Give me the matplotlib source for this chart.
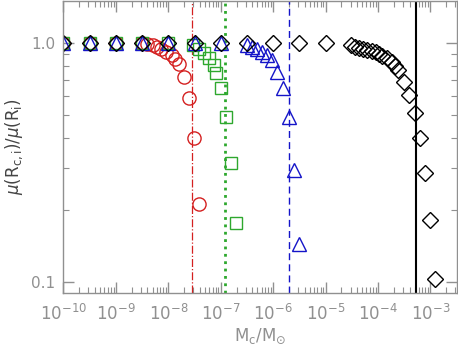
import matplotlib
matplotlib.use("Agg")
import matplotlib.pyplot as plt
from matplotlib.ticker import LogLocator, FixedLocator, NullFormatter

# red circles
red_x = [1e-10, 3.16e-10, 1e-9, 3.15e-9, 4.0e-9, 5.0e-9, 6.2e-9, 7.4e-9, 9.2e-9,
         1.15e-8, 1.36e-8, 1.63e-8, 2.02e-8, 2.5e-8, 3.13e-8, 3.9e-8]
red_y = [1.0, 1.0, 1.0, 1.0, 0.995, 0.981, 0.967, 0.948, 0.922,
         0.891, 0.857, 0.817, 0.721, 0.589, 0.401, 0.212]

# green squares
green_x = [1e-10, 3.16e-10, 1e-9, 3.16e-9, 1e-8, 2.99e-8, 3.81e-8, 4.74e-8, 6.03e-8,
           7.5e-8, 8.0e-8, 1.0e-7, 1.25e-7, 1.6e-7, 1.99e-7]
green_y = [1.0, 1.0, 1.0, 1.0, 1.0, 0.981, 0.948, 0.908, 0.863,
           0.809, 0.753, 0.646, 0.492, 0.316, 0.176]

# blue triangles
blue_x = [1e-10, 3.16e-10, 1e-9, 3.16e-9, 1e-8, 3.16e-8, 1e-7, 3.17e-7, 3.95e-7,
          4.91e-7, 6.1e-7, 7.6e-7, 9.45e-7, 1.18e-6, 1.53e-6, 1.99e-6, 2.55e-6, 3.08e-6]
blue_y = [1.0, 1.0, 1.0, 1.0, 1.0, 1.0, 1.0, 0.981, 0.965,
          0.944, 0.920, 0.891, 0.849, 0.758, 0.651, 0.492, 0.294, 0.145]

# black diamonds
black_x = [1e-10, 3.16e-10, 1e-9, 3.16e-9, 1e-8, 3.16e-8, 1e-7, 3.16e-7, 1e-6, 3.16e-6, 1e-5,
           3.08e-5, 3.66e-5, 4.35e-5, 5.26e-5, 6.27e-5, 7.57e-5, 8.99e-5, 1.045e-4, 1.21e-4,
           1.46e-4, 1.81e-4, 2.08e-4, 2.43e-4, 3.11e-4, 3.93e-4, 5.04e-4, 6.27e-4, 7.8e-4,
           9.95e-4, 1.24e-3]
black_y = [1.0] * 11 + [0.981, 0.965, 0.956, 0.944, 0.935, 0.926, 0.914, 0.897, 0.885,
                        0.863, 0.830, 0.805, 0.771, 0.689, 0.606, 0.508, 0.399, 0.285,
                        0.182, 0.103]

# vertical marker lines
vlines = [2.8e-8, 1.22e-7, 2.0e-6, 5.3e-4]

# tick values and labels
x_ticks = [1e-10, 1e-9, 1e-8, 1e-7, 1e-6, 1e-5, 1e-4, 1e-3]
x_labels = [r'10$^{-10}$', r'10$^{-9}$', r'10$^{-8}$', r'10$^{-7}$',
            r'10$^{-6}$', r'10$^{-5}$', r'10$^{-4}$', r'10$^{-3}$']
y_ticks = [0.1, 1.0]
y_labels = ['0.1', '1.0']

red = '#d42020'
green = '#2ea82e'
blue = '#1414c8'
gray = '#909090'

fig = plt.figure(figsize=(4.58, 3.48), dpi=100)
ax = fig.add_axes([0.1386, 0.158, 0.859, 0.839])

ax.axvline(vlines[0], color=red, lw=0.9, ls='-.')
ax.axvline(vlines[1], color=green, lw=2, ls=':')
ax.axvline(vlines[2], color=blue, lw=1, ls=(0, (5, 3)))
ax.axvline(vlines[3], color='black', lw=1.5)

ax.plot(red_x, red_y, 'o', ms=9.5, mfc='none', mec=red, mew=1)
ax.plot(green_x, green_y, 's', ms=9, mfc='none', mec=green, mew=1)
ax.plot(blue_x, blue_y, '^', ms=9.5, mfc='none', mec=blue, mew=1)
ax.plot(black_x, black_y, 'D', ms=8.5, mfc='none', mec='black', mew=1)

ax.set_xscale('log')
ax.set_yscale('log')
ax.set_xlim(1e-10, 3.2e-3)
ax.set_ylim(0.09, 1.5)

ax.set_xticks(x_ticks)
ax.set_xticklabels(x_labels)
ax.xaxis.set_minor_locator(LogLocator(base=10, subs=range(2, 10), numticks=20))
ax.xaxis.set_minor_formatter(NullFormatter())
ax.set_yticks(y_ticks)
ax.set_yticklabels(y_labels)
ax.yaxis.set_minor_locator(FixedLocator([0.2, 0.3, 0.4, 0.5, 0.6, 0.7, 0.8, 0.9]))
ax.yaxis.set_minor_formatter(NullFormatter())

ax.tick_params(which='both', direction='in', top=True, right=True, color=gray,
               labelcolor=gray)
ax.tick_params(which='major', length=8, width=1)
ax.tick_params(which='minor', length=4, width=0.8)
ax.tick_params(axis='x', labelsize=12, pad=8)
ax.tick_params(axis='y', labelsize=11, pad=6)

for s in ax.spines.values():
    s.set_color(gray)
    s.set_linewidth(1)

ax.set_xlabel(r'M$_{\rm c}$/M$_{\odot}$', color=gray, fontsize=12, labelpad=2)
ax.set_ylabel(r'$\mu$(R$_{\rm c,i}$)/$\mu$(R$_{\rm i}$)', color='#444444', fontsize=12,
              labelpad=4)

fig.savefig('out.png', dpi=100)
